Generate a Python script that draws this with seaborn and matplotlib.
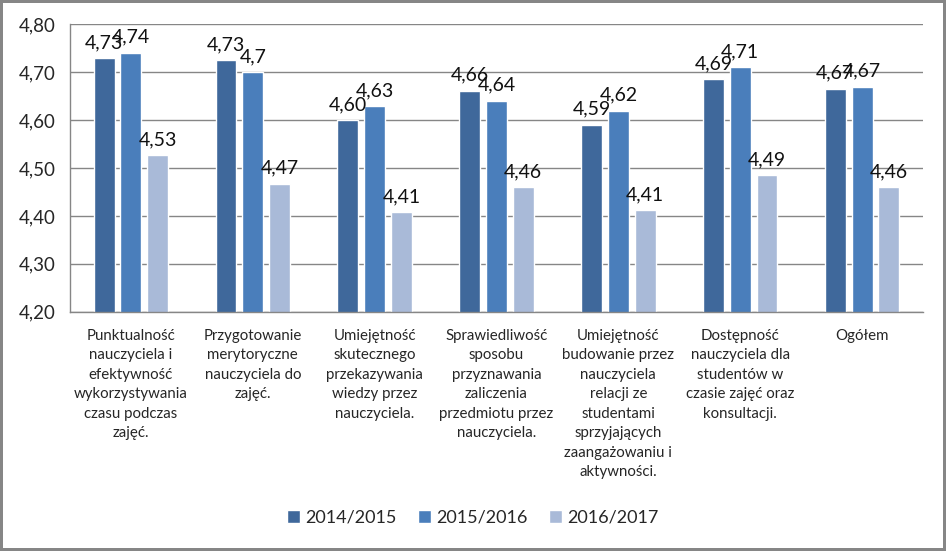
import matplotlib
matplotlib.use('Agg')
import matplotlib.pyplot as plt
import seaborn as sns
import pandas as pd
from matplotlib.ticker import FuncFormatter

categories = [
    'Punktualność\nnauczyciela i\nefektywność\nwykorzystywania\nczasu podczas\nzajęć.',
    'Przygotowanie\nmerytoryczne\nnauczyciela do\nzajęć.',
    'Umiejętność\nskutecznego\nprzekazywania\nwiedzy przez\nnauczyciela.',
    'Sprawiedliwość\nsposobu\nprzyznawania\nzaliczenia\nprzedmiotu przez\nnauczyciela.',
    'Umiejętność\nbudowanie przez\nnauczyciela\nrelacji ze\nstudentami\nsprzyjających\nzaangażowaniu i\naktywności.',
    'Dostępność\nnauczyciela dla\nstudentów w\nczasie zajęć oraz\nkonsultacji.',
    'Ogółem',
]
series = ['2014/2015', '2015/2016', '2016/2017']
v2014 = [4.729, 4.725, 4.60, 4.661, 4.590, 4.685, 4.665]
v2015 = [4.74, 4.70, 4.629, 4.64, 4.619, 4.71, 4.669]
v2016 = [4.526, 4.467, 4.408, 4.46, 4.412, 4.485, 4.46]
lab2014 = ['4,73', '4,73', '4,60', '4,66', '4,59', '4,69', '4,67']
lab2015 = ['4,74', '4,7', '4,63', '4,64', '4,62', '4,71', '4,67']
lab2016 = ['4,53', '4,47', '4,41', '4,46', '4,41', '4,49', '4,46']
colors = ['#3F689B', '#4A7EBB', '#A9BAD8']

df = pd.DataFrame({
    'kategoria': categories * 3,
    'rok': [s for s in series for _ in categories],
    'wartosc': v2014 + v2015 + v2016,
})

sns.set_style('white')
plt.rcParams['font.family'] = ['Lato', 'DejaVu Sans']

fig = plt.figure(figsize=(9.46, 5.51), dpi=100, edgecolor='#868686', linewidth=3)
ax = fig.add_axes([0.074, 0.434, 0.9017, 0.5226])

sns.barplot(data=df, x='kategoria', y='wartosc', hue='rok', palette=colors,
            width=0.66, gap=0.22, ax=ax, saturation=1)

for cont, labs in zip(ax.containers, [lab2014, lab2015, lab2016]):
    ax.bar_label(cont, labels=labs, padding=5, fontsize=14, color='#111111')

ax.set_ylim(4.2, 4.8)
ax.set_yticks([4.2, 4.3, 4.4, 4.5, 4.6, 4.7, 4.8])
ax.yaxis.set_major_formatter(FuncFormatter(lambda v, p: f'{v:.2f}'.replace('.', ',')))
ax.tick_params(axis='y', labelsize=13.5, length=0, pad=10)
ax.tick_params(axis='x', labelsize=10.8, length=0, pad=12)
for t in ax.get_xticklabels():
    t.set_linespacing(1.5)
ax.set_xlabel('')
ax.set_ylabel('')
ax.grid(axis='y', color='#868686', linewidth=1)
ax.set_axisbelow(True)
for s in ['top', 'right']:
    ax.spines[s].set_visible(False)
for s in ['left', 'bottom']:
    ax.spines[s].set_color('#868686')
    ax.spines[s].set_linewidth(1)

ax.legend(loc='center', bbox_to_anchor=(0.5, 0.06), bbox_transform=fig.transFigure,
          ncol=3, frameon=False, fontsize=13, handlelength=0.7, handleheight=0.7,
          handletextpad=0.3, columnspacing=1.2)

fig.savefig('out.png', dpi=100, edgecolor=fig.get_edgecolor())
